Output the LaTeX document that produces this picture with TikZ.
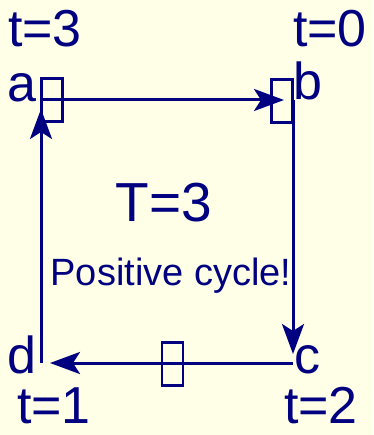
\documentclass[tikz,border=0pt]{standalone}
\usepackage{fontspec}
\setmainfont{Liberation Sans}
\usetikzlibrary{arrows.meta}
\definecolor{paper}{RGB}{255,255,232}
\definecolor{ink}{RGB}{0,0,128}
\begin{document}
\begin{tikzpicture}[x=1pt,y=-1pt,
  lbl/.style={inner sep=0pt,anchor=base,text=ink,font=\fontsize{52}{60}\selectfont},
  slot/.style={draw=ink,line width=2.8pt,minimum width=21pt,minimum height=43pt,inner sep=0pt},
  edge/.style={draw=ink,line width=3pt,-{Stealth[length=30pt,width=22pt,inset=7pt]},shorten >=9pt}]
  \fill[paper] (0,0) rectangle (373,435);
  \useasboundingbox (0,0) rectangle (373,435);
  \coordinate (a) at (41,100);
  \coordinate (b) at (293,100);
  \coordinate (c) at (293,363);
  \coordinate (d) at (41,363);
  \node[slot] (sa) at (52,100){};
  \node[slot] (sb) at (282,101){};
  \node[slot] (sdc) at (172.5,364){};
  \draw[edge] (a) -- (b);
  \draw[edge] (b) -- (c);
  \draw[edge] (c) -- (d);
  \draw[edge] (d) -- (a);
  \node[lbl] (la) at (22,102){a};
  \node[lbl] (lb) at (308,100){b};
  \node[lbl] (lc) at (307,373){c};
  \node[lbl] (ld) at (22,373){d};
  \node[lbl] (ta) at (45,47){t=3};
  \node[lbl] (tb) at (330,47){t=0};
  \node[lbl] (td) at (54,423){t=1};
  \node[lbl] (tc) at (321,423){t=2};
  \node[lbl,font=\fontsize{55}{64}\selectfont] (tot) at (164,222){T=3};
  \node[lbl,font=\fontsize{38}{46}\selectfont] (msg) at (171,285){Positive cycle!};
\end{tikzpicture}
\end{document}
